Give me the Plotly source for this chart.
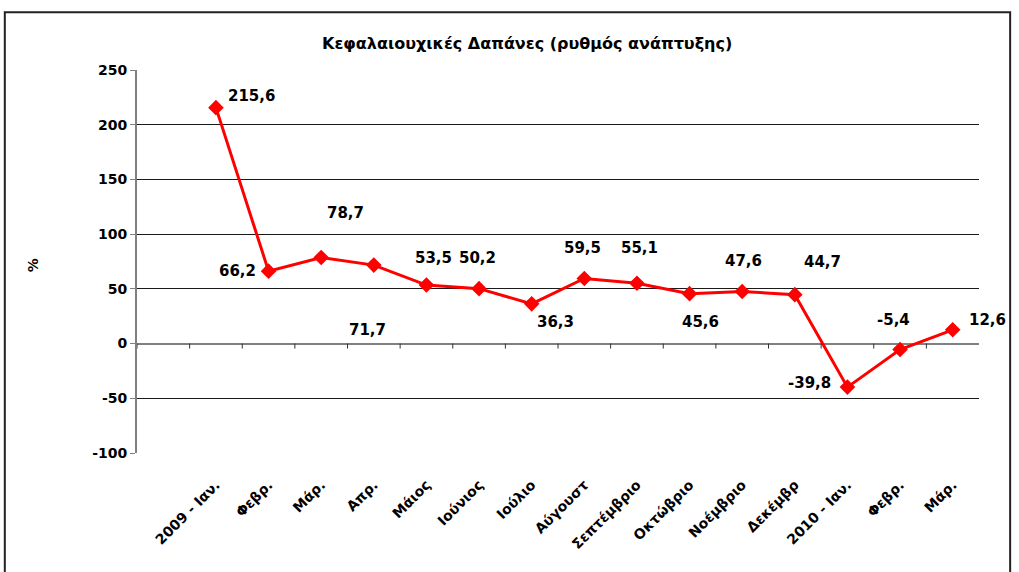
import plotly.graph_objects as go

months = ["2009 - Ιαν.", "Φεβρ.", "Μάρ.", "Απρ.", "Μάιος", "Ιούνιος", "Ιούλιο",
          "Αύγουστ", "Σεπτέμβριο", "Οκτώβριο", "Νοέμβριο", "Δεκέμβρ",
          "2010 - Ιαν.", "Φεβρ.", "Μάρ."]
growth = [215.6, 66.2, 78.7, 71.7, 53.5, 50.2, 36.3, 59.5, 55.1, 45.6, 47.6, 44.7,
          -39.8, -5.4, 12.6]
y_ticks = [-100, -50, 0, 50, 100, 150, 200, 250]

# pixel offsets of the value labels (style only)
label_shift = [(36, 12), (-31, 0), (24, 44), (-6, -65), (7, 27), (-2, 31), (24, -18),
               (-2, 30), (3, 35), (11, -28), (1, 30), (28, 33), (-38, 4), (-7, 29),
               (35, 10)]

FONT = "DejaVu Sans"
x = list(range(len(months)))

fig = go.Figure()
fig.add_trace(go.Scatter(
    x=x, y=growth, mode="lines+markers",
    line=dict(color="#ff0000", width=3),
    marker=dict(symbol="diamond", size=12, color="#ff0000"),
    showlegend=False, hoverinfo="skip"))

for i, v in enumerate(growth):
    dx, dy = label_shift[i]
    fig.add_annotation(x=i, y=v, text=f"{v:.1f}".replace(".", ","),
                       showarrow=False, xshift=dx, yshift=dy,
                       font=dict(family=FONT, size=15, color="black", weight="bold"))

# small category-boundary ticks on the zero line
for i in range(len(months) + 1):
    fig.add_shape(type="line", xref="x", yref="y", x0=i - 1.5, x1=i - 1.5,
                  ysizemode="pixel", yanchor=0, y0=0, y1=-5,
                  line=dict(color="#333333", width=1))

# outer chart frame
fig.add_shape(type="rect", xref="paper", yref="paper", x0=-0.157, x1=1.037,
              y0=-0.5, y1=1.151, line=dict(color="#222222", width=2),
              fillcolor="rgba(0,0,0,0)", layer="below")

fig.add_annotation(xref="paper", yref="paper", x=0.463, y=1.069, xanchor="center", yanchor="middle",
                   text="Κεφαλαιουχικές Δαπάνες (ρυθμός ανάπτυξης)",
                   showarrow=False, font=dict(family=FONT, size=16, color="black", weight="bold"))
fig.add_annotation(xref="paper", yref="paper", x=-0.1235, y=0.49, xanchor="center", yanchor="middle",
                   text="%", textangle=-90,
                   showarrow=False, font=dict(family=FONT, size=14, color="black", weight="bold"))

fig.update_layout(
    width=1019, height=572,
    paper_bgcolor="white", plot_bgcolor="white",
    margin=dict(l=137, r=40, t=70, b=119),
    xaxis=dict(range=[-1.5, 14.5], tickvals=x, ticktext=months, tickangle=-45,
               showgrid=False, zeroline=False, showline=False, ticks="",
               ticklabelstandoff=20,
               tickfont=dict(family=FONT, size=14, color="black", weight="bold"),
               fixedrange=True),
    yaxis=dict(range=[-100, 250], tickvals=y_ticks, ticktext=[str(v) for v in y_ticks],
               showgrid=True, gridcolor="#1a1a1a", gridwidth=1,
               zeroline=True, zerolinecolor="#808080", zerolinewidth=2,
               showline=True, linecolor="#808080", linewidth=2,
               ticks="outside", ticklen=5, tickcolor="#808080",
               tickfont=dict(family=FONT, size=14, color="black", weight="bold"),
               fixedrange=True),
)

fig.write_html("out.html", config={"displayModeBar": False},
               post_script="document.body.style.margin='0';")
